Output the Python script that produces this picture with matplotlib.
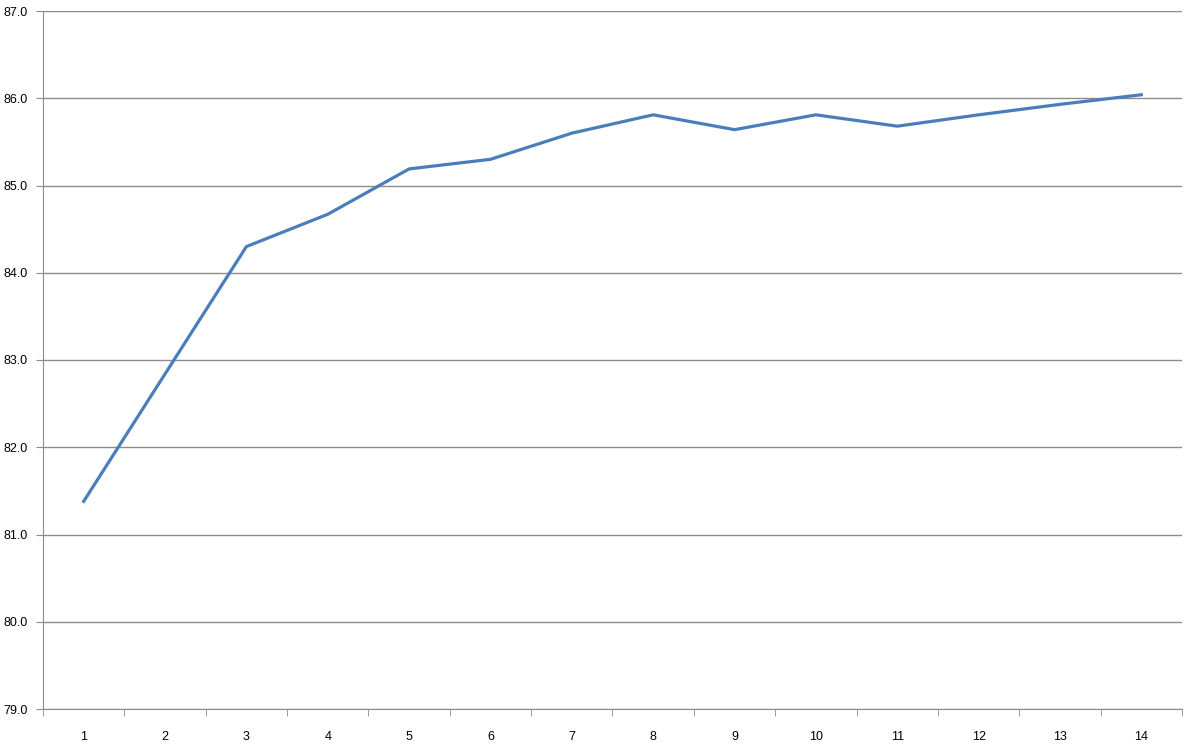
import matplotlib
matplotlib.use('Agg')
import matplotlib.pyplot as plt
import numpy as np

# data
steps = list(range(1, 15))
values = [81.38, 82.84, 84.30, 84.67, 85.19, 85.30, 85.60, 85.81,
          85.64, 85.81, 85.68, 85.81, 85.93, 86.04]
y_ticks = [79, 80, 81, 82, 83, 84, 85, 86, 87]

plt.rcParams.update({'font.family': ['Liberation Sans', 'DejaVu Sans'], 'font.size': 9})

fig = plt.figure(figsize=(11.98, 7.44), dpi=100)
ax = fig.add_axes([43/1198, 1 - 709/744, (1182-43)/1198, (709-11)/744])

ax.plot(steps, values, color='#4A7EBB', linewidth=2.3, solid_joinstyle='round')

ax.set_xlim(0.5, 14.5)
ax.set_ylim(79, 87)
ax.set_yticks(y_ticks)
ax.set_yticklabels([f'{v:.1f}' for v in y_ticks])
ax.yaxis.grid(True, color='#8C8C8C', linewidth=1)
ax.set_axisbelow(True)

# category labels at integers (no tick marks), tick marks between categories
ax.set_xticks(steps)
ax.set_xticklabels([str(s) for s in steps])
ax.tick_params(axis='x', which='major', length=0, pad=16)
ax.set_xticks(np.arange(0.5, 15, 1.0), minor=True)
ax.tick_params(axis='x', which='minor', length=5, color='#8C8C8C', direction='out')
ax.tick_params(axis='y', length=5, color='#8C8C8C', pad=6)

for s in ['top', 'right']:
    ax.spines[s].set_visible(False)
for s in ['left', 'bottom']:
    ax.spines[s].set_color('#8C8C8C')

fig.savefig('out.png', dpi=100)
